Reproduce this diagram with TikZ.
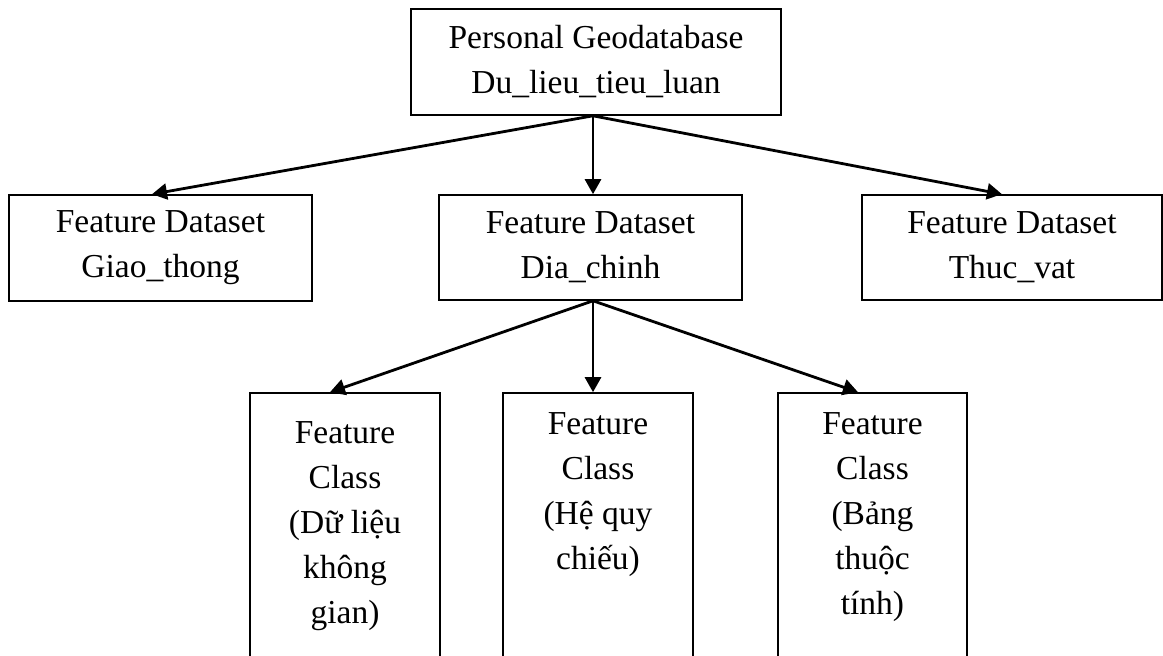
\documentclass[tikz,border=0pt]{standalone}
\usepackage{fontspec}
\setmainfont{Liberation Serif}
\usetikzlibrary{arrows.meta}
\tikzset{
  box/.style={draw, line width=1.6pt, inner sep=0pt, align=center,
    font=\fontsize{33.5}{45}\selectfont},
  txt/.style={inner sep=0pt, align=center, anchor=north,
    font=\fontsize{33.5}{45}\selectfont},
  arr/.style={line width=2.8pt, -{Triangle[length=15pt,width=16pt]}}
}
\begin{document}
\begin{tikzpicture}[x=1pt,y=-1pt]
\clip (0,0) rectangle (1163,656);
\fill[white] (0,0) rectangle (1163,656);
\node[box, minimum width=370pt, minimum height=106pt] (pg) at (596,62) {Personal Geodatabase\\Du\_lieu\_tieu\_luan};
\node[box, minimum width=303pt, minimum height=106pt] (gt) at (160.5,248) {Feature Dataset\\Giao\_thong};
\node[box, minimum width=303pt, minimum height=105pt] (dc) at (590.5,247.5) {Feature Dataset\\Dia\_chinh};
\node[box, minimum width=300pt, minimum height=105pt] (tv) at (1012,247.5) {Feature Dataset\\Thuc\_vat};
\node[box, minimum width=190pt, minimum height=400pt] (fc1) at (345,593) {};
\node[box, minimum width=190pt, minimum height=400pt] (fc2) at (598,593) {};
\node[box, minimum width=189pt, minimum height=400pt] (fc3) at (872.5,593) {};
\node[txt] (t1) at (345,421) {Feature\\Class\\(Dữ liệu\\không\\gian)};
\node[txt] (t2) at (598,412.5) {Feature\\Class\\(Hệ quy\\chiếu)};
\node[txt] (t3) at (872.5,412.5) {Feature\\Class\\(Bảng\\thuộc\\tính)};
\draw[arr] ([xshift=-3pt]pg.south) -- ([xshift=-8.5pt]gt.north);
\draw[arr] ([xshift=-3pt]pg.south) -- ([xshift=2.5pt]dc.north);
\draw[arr] ([xshift=-3pt]pg.south) -- ([xshift=-10pt]tv.north);
\draw[arr] ([xshift=2.5pt]dc.south) -- ([xshift=-15pt]fc1.north);
\draw[arr] ([xshift=2.5pt]dc.south) -- ([xshift=-5pt]fc2.north);
\draw[arr] ([xshift=2.5pt]dc.south) -- ([xshift=-14.5pt]fc3.north);
\end{tikzpicture}
\end{document}
